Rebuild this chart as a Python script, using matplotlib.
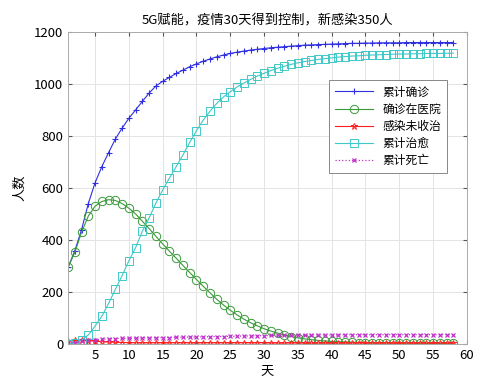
import matplotlib.pyplot as plt
import numpy as np

plt.rcParams['font.family'] = ['Noto Sans CJK SC', 'DejaVu Sans']
plt.rcParams['axes.unicode_minus'] = False

days = np.arange(1, 59)

confirmed = [295, 358, 440, 540, 620, 682, 736, 788, 830, 868,
             900, 933, 965, 992, 1010, 1025, 1040, 1053, 1066, 1077,
             1087, 1096, 1104, 1111, 1117, 1122, 1126, 1130, 1133, 1136,
             1139, 1141, 1143, 1145, 1147, 1149, 1150, 1151, 1152, 1153,
             1154, 1155, 1156, 1156, 1157, 1157, 1158, 1158, 1158, 1158,
             1159, 1159, 1159, 1159, 1159, 1159, 1159, 1159]
in_hospital = [295, 352, 430, 492, 530, 548, 555, 552, 540, 522,
               500, 472, 444, 414, 385, 357, 330, 302, 275, 248,
               222, 197, 172, 150, 130, 112, 96, 82, 70, 59,
               50, 42, 35, 29, 24, 20, 17, 14, 12, 10,
               9, 8, 7, 6, 6, 5, 5, 5, 4, 4,
               4, 4, 4, 3, 3, 3, 3, 3]
untreated = [10, 14, 15, 13, 11, 9, 8, 7, 6, 6,
             5, 5, 5, 5, 5, 5, 5, 5, 5, 5,
             5, 5, 5, 5, 5, 5, 5, 5, 5, 5,
             4, 4, 4, 4, 4, 4, 4, 4, 4, 4,
             4, 4, 4, 4, 4, 4, 4, 4, 4, 4,
             4, 4, 4, 4, 4, 4, 4, 4]
cured = [0, 5, 15, 35, 69, 107, 156, 210, 263, 320,
         371, 434, 485, 542, 592, 638, 682, 727, 775, 820,
         861, 895, 925, 950, 970, 988, 1003, 1017, 1030, 1041,
         1051, 1060, 1068, 1075, 1081, 1086, 1090, 1094, 1097, 1100,
         1103, 1105, 1107, 1108, 1110, 1111, 1112, 1113, 1114, 1115,
         1115, 1116, 1116, 1117, 1117, 1117, 1118, 1118]
deaths = [3, 6, 10, 14, 17, 19, 20, 21, 22, 22,
          23, 23, 24, 24, 25, 25, 26, 26, 27, 27,
          28, 28, 29, 29, 30, 30, 31, 31, 32, 32,
          33, 33, 34, 34, 34, 35, 35, 35, 35, 35,
          35, 36, 36, 36, 36, 36, 36, 36, 36, 36,
          36, 36, 36, 36, 36, 36, 36, 36]

labels = ['累计确诊', '确诊在医院', '感染未收治', '累计治愈', '累计死亡']

fig = plt.figure(figsize=(4.93, 3.84), dpi=100)
ax = fig.add_axes([0.138, 0.104, 0.809, 0.813])

ax.plot(days, confirmed, '-+', color='#3030e0', lw=0.8, ms=5, mew=0.8, label=labels[0])
ax.plot(days, in_hospital, '-o', color='#3a9a3a', lw=0.8, ms=6, mew=0.7,
        mfc='none', label=labels[1])
ax.plot(days, untreated, '-*', color='#ff2020', lw=0.8, ms=5, mew=0.7,
        mfc='none', label=labels[2])
ax.plot(days, cured, '-s', color='#40c8c8', lw=0.8, ms=6, mew=0.7,
        mfc='none', label=labels[3])
ax.plot(days, deaths, ':x', color='#c030c8', lw=0.9, ms=3.5, mew=0.9, label=labels[4])

ax.set_xlim(1, 60)
ax.set_ylim(0, 1200)
ax.set_xticks(range(5, 61, 5))
ax.set_yticks(range(0, 1201, 200))
ax.grid(True, color='#e4e4e4', lw=0.7)
ax.tick_params(direction='in', top=True, right=True, labelsize=9.5, length=3,
               color='#555555')
for s in ax.spines.values():
    s.set_color('#aaaaaa')
    s.set_linewidth(0.7)

ax.set_title('5G赋能，疫情30天得到控制，新感染350人', fontsize=9.5, pad=6)
ax.set_xlabel('天', fontsize=9.5, labelpad=2)
ax.set_ylabel('人数', fontsize=9.5, labelpad=6)

leg = ax.legend(loc='upper left', bbox_to_anchor=(0.64, 0.866), fontsize=8.5,
                handlelength=3.2, fancybox=False, edgecolor='#888888',
                framealpha=1, borderpad=0.5, labelspacing=0.35)
leg.get_frame().set_linewidth(0.7)

plt.savefig('out.png', dpi=100)
